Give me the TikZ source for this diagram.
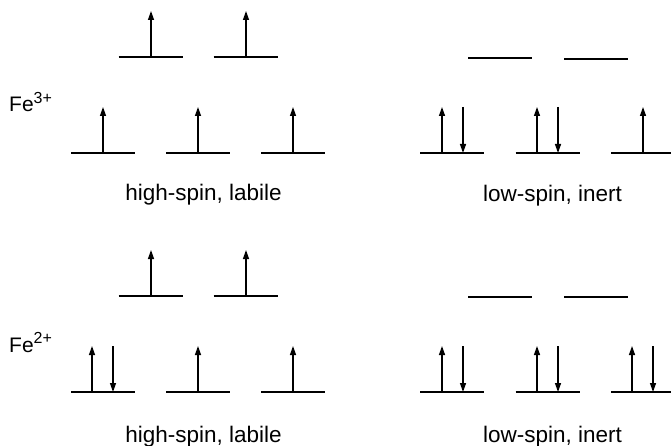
\documentclass[tikz,border=0pt]{standalone}
\usepackage{fontspec}
\setmainfont{Liberation Sans}
\usetikzlibrary{arrows.meta}
\begin{document}
\begin{tikzpicture}[x=1pt,y=-1pt,
  levelline/.style={line width=1.5pt},
  spin/.style={line width=1.3pt,-{Triangle[length=9pt,width=6pt]}},
  caption/.style={inner sep=0pt,anchor=base,font=\fontsize{22.5}{26}\selectfont},
  ionlabel/.style={inner sep=0pt,anchor=base west,font=\fontsize{21}{25}\selectfont}]
\useasboundingbox (0,0) rectangle (671,446);
\newcommand{\lvl}[2]{\draw[levelline] (#1-32,#2) -- (#1+32,#2);}
\newcommand{\upsp}[2]{\draw[spin] (#1,#2) -- (#1,#2-46);}
\newcommand{\dnsp}[2]{\draw[spin] (#1,#2-46) -- (#1,#2);}
\newcommand{\supx}[1]{\raisebox{0.4em}{\fontsize{16}{18}\selectfont #1}}
% ---------- Fe3+ high-spin ----------
\lvl{150.5}{57}\upsp{151}{57}
\lvl{245.5}{57}\upsp{246}{57}
\lvl{103}{153}\upsp{103}{153}
\lvl{198}{153}\upsp{198}{153}
\lvl{293}{153}\upsp{293}{153}
% ---------- Fe3+ low-spin ----------
\lvl{500}{58}
\lvl{596}{59}
\lvl{452}{153}\upsp{442}{153}\dnsp{463}{153}
\lvl{547.5}{153}\upsp{537}{153}\dnsp{558}{153}
\lvl{643}{153}\upsp{643}{153}
% ---------- Fe2+ high-spin ----------
\lvl{150.5}{296}\upsp{151}{296}
\lvl{245.5}{296}\upsp{246}{296}
\lvl{103}{392}\upsp{92}{392}\dnsp{113}{392}
\lvl{198}{392}\upsp{198}{392}
\lvl{293}{392}\upsp{293}{392}
% ---------- Fe2+ low-spin ----------
\lvl{500}{297}
\lvl{596}{297}
\lvl{452}{392}\upsp{442}{392}\dnsp{463}{392}
\lvl{547.5}{392}\upsp{537}{392}\dnsp{558}{392}
\lvl{643}{392}\upsp{632}{392}\dnsp{653}{392}
% ---------- labels ----------
\node[ionlabel] (fe3) at (9,112) {Fe\supx{3+}};
\node[ionlabel] (fe2) at (9,352) {Fe\supx{2+}};
\node[caption] (hs3) at (203.5,201) {high-spin, labile};
\node[caption] (ls3) at (552.5,202) {low-spin, inert};
\node[caption] (hs2) at (203.5,442) {high-spin, labile};
\node[caption] (ls2) at (552.5,442) {low-spin, inert};
\end{tikzpicture}
\end{document}
